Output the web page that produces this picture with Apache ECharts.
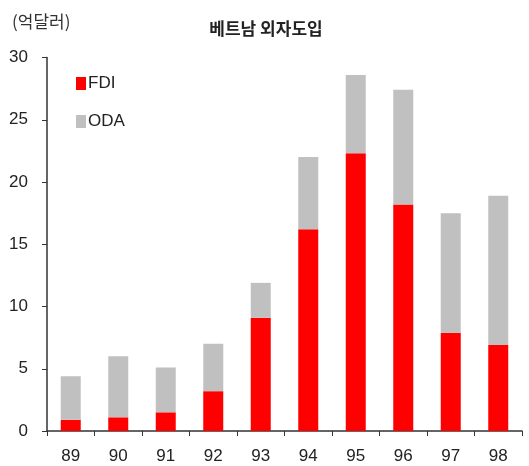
<!DOCTYPE html>
<html>
<head>
<meta charset="utf-8">
<script src="https://cdn.jsdelivr.net/npm/echarts@6/dist/echarts.min.js"></script>
<style>
  html, body { margin: 0; padding: 0; background: #fff; }
  #main { width: 529px; height: 466px; }
</style>
</head>
<body>
<div id="main"></div>
<script>
var years = ['89', '90', '91', '92', '93', '94', '95', '96', '97', '98'];
var fdi = [0.9, 1.1, 1.5, 3.2, 9.1, 16.2, 22.3, 18.2, 7.9, 6.9];
var oda = [3.5, 4.9, 3.6, 3.8, 2.8, 5.8, 6.3, 9.2, 9.6, 12.0];
var yTicks = [0, 5, 10, 15, 20, 25, 30];

var font = "'Liberation Sans', Arial, sans-serif";
var myChart = echarts.init(document.getElementById('main'));

option = {
    animation: false,
    title: [
        {
            text: '베트남 외자도입',
            left: 261,
            top: 15,
            textAlign: 'center',
            textStyle: { fontFamily: "'Noto Sans CJK KR', sans-serif", fontSize: 17, fontWeight: 'bold', color: '#222' }
        },
        {
            text: '(억달러)',
            left: 7,
            top: 8,
            textStyle: { fontFamily: "'Noto Sans CJK KR', sans-serif", fontSize: 17, fontWeight: 'normal', color: '#333' }
        }
    ],
    legend: {
        orient: 'vertical',
        left: 71,
        top: 70,
        itemWidth: 10,
        itemHeight: 13,
        itemGap: 21,
        icon: 'rect',
        textStyle: { fontFamily: font, fontSize: 17, color: '#222', padding: [0, 0, 0, -3] },
        data: ['FDI', 'ODA']
    },
    grid: {
        left: 47,
        right: 7,
        top: 57.5,
        bottom: 35,
        containLabel: false
    },
    xAxis: {
        type: 'category',
        data: years,
        axisLine: { lineStyle: { color: '#333', width: 1.5 } },
        axisTick: { show: true, length: 5, lineStyle: { color: '#333' } },
        axisLabel: { fontFamily: font, fontSize: 17, color: '#222', margin: 17 }
    },
    yAxis: {
        type: 'value',
        min: 0,
        max: 30,
        interval: 5,
        axisLine: { show: true, lineStyle: { color: '#333', width: 1.5 } },
        axisTick: { show: true, length: 5, lineStyle: { color: '#333' } },
        splitLine: { show: false },
        axisLabel: {
            fontFamily: font, fontSize: 17, color: '#222', margin: 19,
            formatter: function (v) { return yTicks.indexOf(v) >= 0 ? String(v) : ''; }
        }
    },
    series: [
        {
            name: 'FDI',
            type: 'bar',
            stack: 'total',
            barWidth: 20,
            color: '#ff0000',
            data: fdi
        },
        {
            name: 'ODA',
            type: 'bar',
            stack: 'total',
            barWidth: 20,
            color: '#c0c0c0',
            data: oda
        }
    ]
};
myChart.setOption(option);
</script>
</body>
</html>
